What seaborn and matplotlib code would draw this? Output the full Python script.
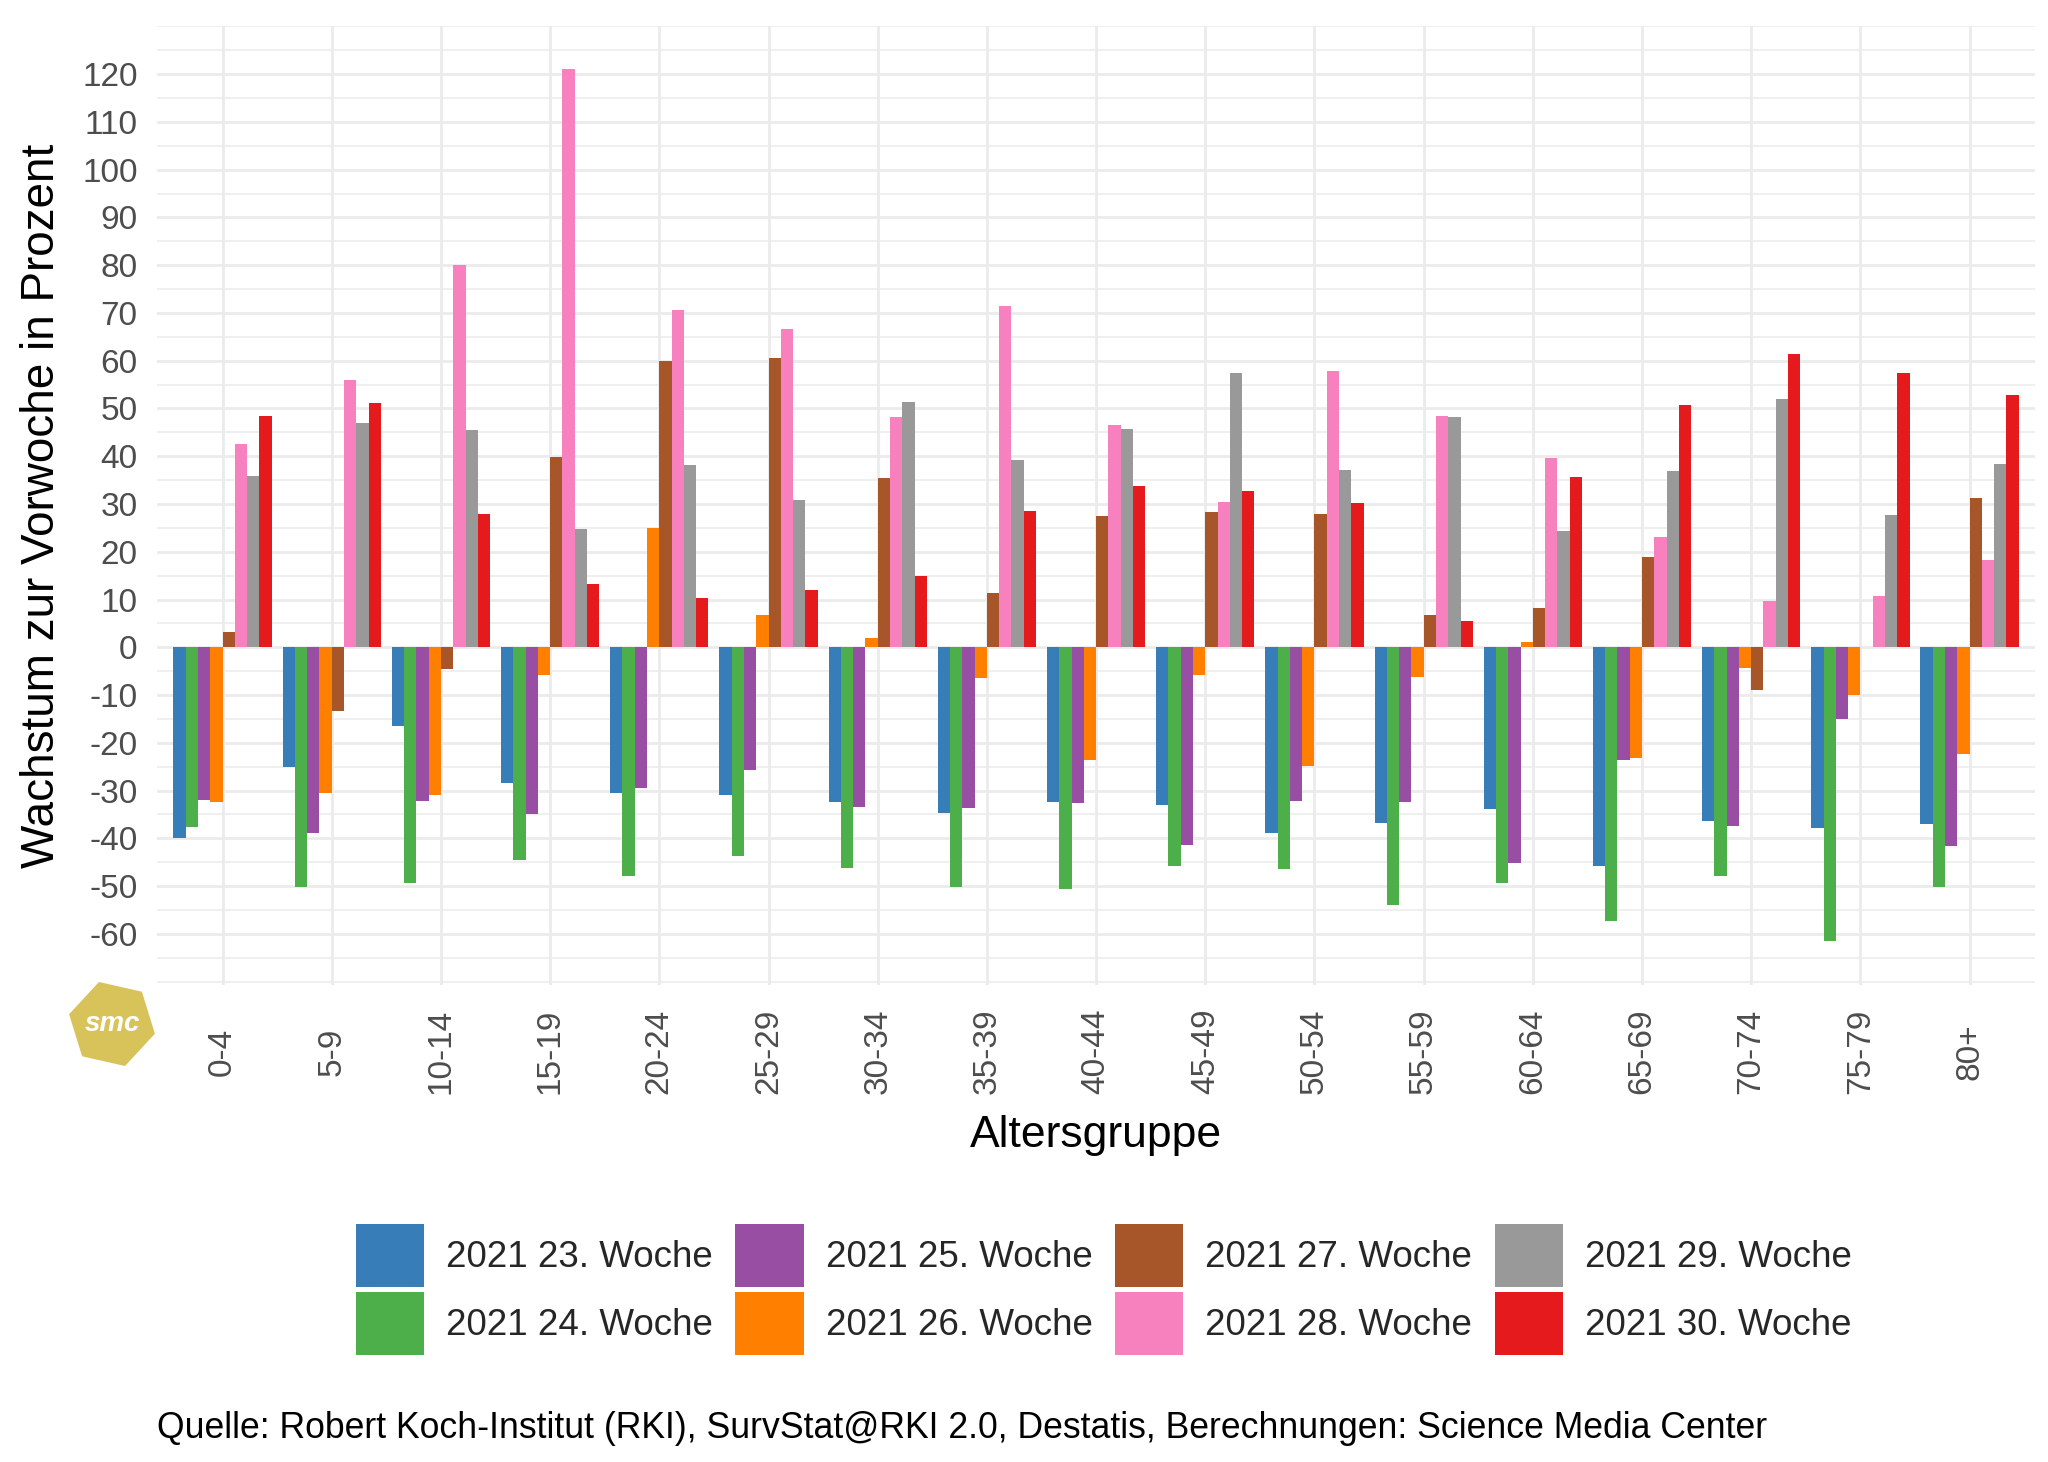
import numpy as np
import pandas as pd
import seaborn as sns
import matplotlib.pyplot as plt
from matplotlib.patches import Patch, RegularPolygon
from matplotlib.ticker import FixedLocator, MultipleLocator

# Altersgruppen und Meldewochen
age_groups = ['0-4', '5-9', '10-14', '15-19', '20-24', '25-29', '30-34', '35-39',
              '40-44', '45-49', '50-54', '55-59', '60-64', '65-69', '70-74', '75-79', '80+']
weeks = ['2021 23. Woche', '2021 24. Woche', '2021 25. Woche', '2021 26. Woche',
         '2021 27. Woche', '2021 28. Woche', '2021 29. Woche', '2021 30. Woche']

# Wachstum zur Vorwoche in Prozent
w23 = [-40.0, -25.0, -16.5, -28.4, -30.6, -30.9, -32.5, -34.6, -32.5, -33.1, -38.9, -36.7, -33.9, -45.9, -36.4, -37.8, -36.9]
w24 = [-37.6, -50.1, -49.4, -44.6, -47.9, -43.6, -46.3, -50.1, -50.7, -45.9, -46.4, -53.9, -49.4, -57.4, -47.9, -61.6, -50.1]
w25 = [-32.0, -38.9, -32.1, -34.9, -29.5, -25.6, -33.5, -33.7, -32.7, -41.4, -32.1, -32.3, -45.2, -23.6, -37.4, -15.1, -41.6]
w26 = [-32.4, -30.5, -30.9, -5.8, 24.9, 6.7, 2.0, -6.4, -23.6, -5.8, -24.8, -6.2, 1.1, -23.2, -4.4, -10.0, -22.3]
w27 = [3.1, -13.3, -4.6, 39.8, 60.0, 60.5, 35.5, 11.4, 27.4, 28.4, 28.0, 6.8, 8.3, 18.8, -8.9, 0.0, 31.2]
w28 = [42.6, 55.9, 80.0, 121.0, 70.6, 66.7, 48.3, 71.4, 46.5, 30.4, 57.8, 48.5, 39.6, 23.1, 9.6, 10.8, 18.2]
w29 = [35.9, 47.0, 45.4, 24.7, 38.1, 30.9, 51.3, 39.2, 45.7, 57.5, 37.1, 48.3, 24.4, 37.0, 52.0, 27.7, 38.3]
w30 = [48.5, 51.2, 28.0, 13.3, 10.4, 12.0, 14.9, 28.5, 33.8, 32.7, 30.2, 5.4, 35.6, 50.7, 61.5, 57.5, 52.8]

colors = ['#377EB8', '#4DAF4A', '#984EA3', '#FF7F00', '#A65628', '#F781BF', '#999999', '#E41A1C']

series = [w23, w24, w25, w26, w27, w28, w29, w30]
df = pd.DataFrame({
    'Altersgruppe': age_groups * len(weeks),
    'Woche': np.repeat(weeks, len(age_groups)),
    'Wert': np.concatenate(series),
})

sns.set_theme(style='white')
plt.rcParams['font.family'] = ['Liberation Sans', 'DejaVu Sans']
plt.rcParams['axes.unicode_minus'] = False

fig = plt.figure(figsize=(20.48, 14.62), dpi=100)
ax = fig.add_axes([0.0767, 0.3263, 0.917, 0.656])

sns.barplot(data=df, x='Altersgruppe', y='Wert', hue='Woche', order=age_groups,
            hue_order=weeks, palette=colors, width=0.9, gap=0, saturation=1,
            linewidth=0, errorbar=None, legend=False, ax=ax)

ax.set_xlim(-0.6, len(age_groups) - 0.4)
ax.set_ylim(-70.7, 130.1)
ax.yaxis.set_major_locator(FixedLocator(range(-60, 121, 10)))
ax.yaxis.set_minor_locator(MultipleLocator(5))
ax.set_axisbelow(True)
ax.grid(which='major', color='#EBEBEB', linewidth=2.0)
ax.grid(which='minor', axis='y', color='#EBEBEB', linewidth=1.1)
for s in ax.spines.values():
    s.set_visible(False)

ax.tick_params(axis='x', which='both', length=0, pad=48, labelsize=24, labelcolor='#4D4D4D')
ax.tick_params(axis='y', which='both', length=0, pad=14, labelsize=24, labelcolor='#4D4D4D')
for lbl in ax.get_xticklabels():
    lbl.set_rotation(90)
    lbl.set_va('center')
    lbl.set_ha('center')

ax.set_xlabel('Altersgruppe', fontsize=32, color='black', labelpad=15)
ax.set_ylabel('Wachstum zur Vorwoche in Prozent', fontsize=33, color='black', labelpad=13)

handles = [Patch(facecolor=c, edgecolor='none') for c in colors]
fig.legend(handles, weeks, ncol=4, loc='center', bbox_to_anchor=(0.539, 0.118),
           frameon=False, fontsize=26.5, handlelength=1.85, handleheight=2.25,
           labelspacing=0.12, handletextpad=0.6, columnspacing=0.62)

fig.text(0.0767, 0.023, 'Quelle: Robert Koch-Institut (RKI), SurvStat@RKI 2.0, Destatis, '
         'Berechnungen: Science Media Center', fontsize=25.7, color='black',
         ha='left', va='center')

# smc-Logo
logo = RegularPolygon((1.12, 4.38), 6, radius=0.44, orientation=0.3,
                      facecolor='#D8C35A', edgecolor='none', transform=fig.dpi_scale_trans)
fig.patches.append(logo)
fig.text(1.12, 4.38, 'smc', transform=fig.dpi_scale_trans, fontsize=20, color='white',
         fontweight='bold', style='italic', ha='center', va='center')

fig.savefig('out.png', dpi=100)
